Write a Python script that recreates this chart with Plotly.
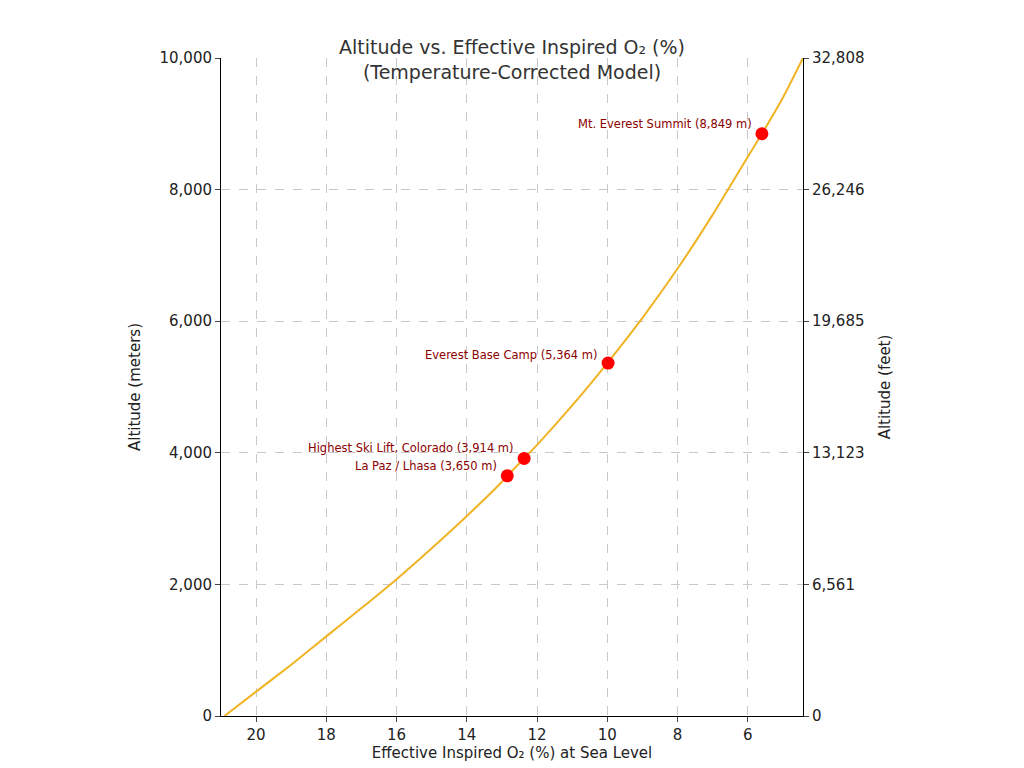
import plotly.graph_objects as go

curve_o2 = [20.9, 20.0, 19.0, 18.0, 17.0, 16.0, 15.0, 14.0, 13.0, 12.85, 12.37, 12.0, 11.0, 10.0, 9.0, 8.0, 7.0, 6.0, 5.6, 5.0, 4.43]
curve_alt = [0, 370, 780, 1210, 1640, 2080, 2550, 3040, 3560, 3650, 3914, 4120, 4720, 5364, 6050, 6800, 7620, 8500, 8849, 9400, 10000]

pt_o2 = [12.85, 12.37, 9.98, 5.6]
pt_alt = [3650, 3914, 5364, 8849]
pt_labels = ["La Paz / Lhasa (3,650 m)", "Highest Ski Lift, Colorado (3,914 m)",
             "Everest Base Camp (5,364 m)", "Mt. Everest Summit (8,849 m)"]
pt_yshift = [10, 10, 8, 10]

x_ticks = [20, 18, 16, 14, 12, 10, 8, 6]
y_ticks = [0, 2000, 4000, 6000, 8000, 10000]
ft_ticks = [0, 6561, 13123, 19685, 26246, 32808]

fig = go.Figure()
fig.add_trace(go.Scatter(x=curve_o2, y=curve_alt, mode="lines", line=dict(color="#f0b323", width=2, shape="spline", smoothing=0.6), showlegend=False))
fig.add_trace(go.Scatter(x=pt_o2, y=pt_alt, mode="markers", marker=dict(color="red", size=13), showlegend=False))
fig.add_trace(go.Scatter(x=[None], y=[None], yaxis="y2", showlegend=False))

for x, y, t, s in zip(pt_o2, pt_alt, pt_labels, pt_yshift):
    fig.add_annotation(x=x, y=y, text=t, showarrow=False, xanchor="right", xshift=-8, yshift=s,
                       font=dict(color="#8b0000", size=11.5))

grid = dict(showgrid=True, gridcolor="#c8c8c8", griddash="dash", gridwidth=1)
fig.update_layout(
    width=1024, height=768, plot_bgcolor="white", paper_bgcolor="white",
    font=dict(family="DejaVu Sans", color="#222", size=15),
    margin=dict(l=213, r=229, t=50, b=60),
    title=dict(text="Altitude vs. Effective Inspired O₂ (%)<br>(Temperature-Corrected Model)", x=0.5, xref="paper",
               yref="paper", y=1, xanchor="center", yanchor="bottom", pad=dict(b=4), font=dict(size=19, color="#333")),
    xaxis=dict(range=[21, 4.43], tickvals=x_ticks, title=dict(text="Effective Inspired O₂ (%) at Sea Level", standoff=4, font=dict(size=15)),
               showline=True, linecolor="black", ticks="outside", zeroline=False, **grid),
    yaxis=dict(range=[0, 10000], tickvals=y_ticks, tickformat=",d", title=dict(text="Altitude (meters)", font=dict(size=15)),
               showline=True, linecolor="black", ticks="outside", zeroline=False, **grid),
    yaxis2=dict(range=[0, 32808], tickvals=ft_ticks, ticktext=[f"{v:,}" for v in ft_ticks], overlaying="y", side="right",
                title=dict(text="Altitude (feet)", font=dict(size=15)), showgrid=False, showline=True, linecolor="black", ticks="outside", zeroline=False),
)
fig.write_html("out.html")
